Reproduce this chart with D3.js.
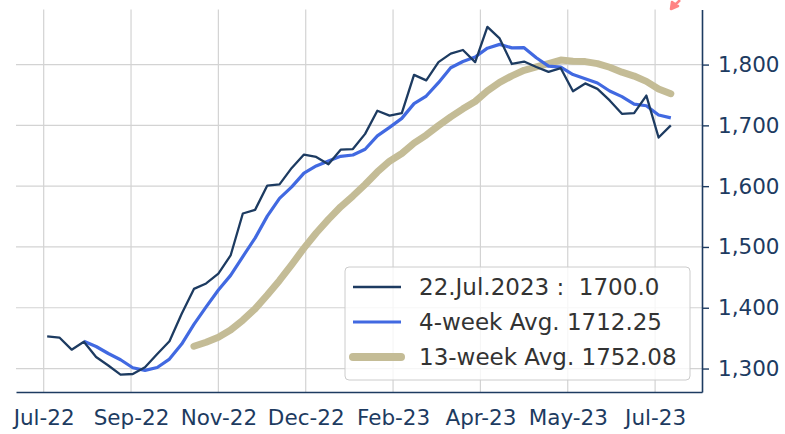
<!DOCTYPE html>
<html>
<head>
<meta charset="utf-8">
<script src="https://cdn.jsdelivr.net/npm/d3@7"></script>
<style>
  body { margin: 0; background: #fff; }
  svg { display: block; font-family: "DejaVu Sans", sans-serif; }
</style>
</head>
<body>
<svg id="chart" width="785" height="434"></svg>
<script>
// weekly readings, last week ending 22 Jul 2023
const lastWeek = new Date(2023, 6, 22);
const weekly = [
  1353, 1351, 1331, 1344, 1319, 1305, 1290, 1291, 1302, 1324,
  1345, 1390, 1431, 1440, 1456, 1486, 1555, 1561, 1601, 1603,
  1630, 1652, 1648, 1636, 1660, 1661, 1686, 1724, 1716, 1720,
  1783, 1774, 1804, 1818, 1824, 1804, 1862, 1843, 1801, 1805,
  1796, 1788, 1794, 1756, 1769, 1760, 1741, 1719, 1720, 1749,
  1680, 1700
];
// 4-week average, starts at week 4
const avg4 = [
  1344.75, 1336.25, 1324.75, 1314.5, 1301.25, 1297, 1301.75, 1315.5, 1340.25, 1372.5,
  1401.5, 1429.25, 1453.25, 1484.25, 1514.5, 1550.75, 1580, 1598.75, 1621.5, 1633.25,
  1641.5, 1649, 1651.25, 1660.75, 1682.75, 1696.75, 1711.5, 1735.75, 1748.25, 1770.25,
  1794.75, 1805, 1812.5, 1827, 1833.25, 1827.5, 1827.75, 1811.25, 1797.5, 1795.75,
  1783.5, 1776.75, 1769.75, 1756.5, 1747.25, 1735, 1732.25, 1717, 1712.25
];
// 13-week average, starts at week 13
const avg13 = [
  1336.62, 1343.31, 1351.38, 1363.31, 1379.54, 1398.15, 1420.92, 1445.00, 1471.08, 1498.00,
  1522.92, 1545.31, 1566.08, 1583.77, 1602.69, 1623.31, 1641.00, 1653.69, 1670.77, 1684.08,
  1699.54, 1714.00, 1727.23, 1739.23, 1756.62, 1770.69, 1781.46, 1790.62, 1796.15, 1801.69,
  1807.38, 1805.31, 1804.92, 1801.54, 1795.62, 1787.54, 1781.08, 1772.38, 1759.85, 1752.08
];
const tickDates = ["2022-07-28", "2022-09-16", "2022-11-05", "2022-12-25",
                   "2023-02-13", "2023-04-04", "2023-05-24", "2023-07-13"];
const yTicks = [1300, 1400, 1500, 1600, 1700, 1800];
const legendLabels = ["22.Jul.2023 :  1700.0", "4-week Avg. 1712.25", "13-week Avg. 1752.08"];

const navy = "#1d3b61", blue = "#4169e1", tan = "#c4bc96", grid = "#d3d3d3";

const svg = d3.select("#chart");
const plotL = 16, plotR = 702, plotT = 9.5, plotB = 392;

const dates = d3.range(weekly.length).map(i => d3.timeDay.offset(lastWeek, -7 * (weekly.length - 1 - i)));
const parse = d3.timeParse("%Y-%m-%d");

// 5% margin on both axes, like the original plot
const t0 = dates[0].getTime(), t1 = dates[dates.length - 1].getTime();
const tpad = (t1 - t0) * 0.05;
const x = d3.scaleTime()
  .domain([new Date(t0 - tpad), new Date(t1 + tpad)])
  .range([plotL, plotR]);

const [vmin, vmax] = d3.extent(weekly);
const vpad = (vmax - vmin) * 0.05;
const y = d3.scaleLinear()
  .domain([vmin - vpad, vmax + vpad])
  .range([plotB, plotT]);

// gridlines
svg.append("g").selectAll("line").data(tickDates.map(parse)).enter()
  .append("line")
  .attr("x1", d => x(d)).attr("x2", d => x(d))
  .attr("y1", plotT).attr("y2", plotB)
  .attr("stroke", grid).attr("stroke-width", 1.2);
svg.append("g").selectAll("line").data(yTicks).enter()
  .append("line")
  .attr("x1", plotL).attr("x2", plotR)
  .attr("y1", d => y(d)).attr("y2", d => y(d))
  .attr("stroke", grid).attr("stroke-width", 1.2);

// axes: only bottom and right spines
const xAxis = svg.append("g")
  .attr("transform", `translate(0,${plotB})`)
  .call(d3.axisBottom(x).tickValues(tickDates.map(parse))
    .tickFormat(d3.timeFormat("%b-%y")).tickSize(0).tickPadding(18));
const yAxis = svg.append("g")
  .attr("transform", `translate(${plotR},0)`)
  .call(d3.axisRight(y).tickValues(yTicks).tickFormat(d3.format(","))
    .tickSize(7).tickSizeOuter(0).tickPadding(9));
[xAxis, yAxis].forEach(a => {
  a.select(".domain").attr("stroke", navy).attr("stroke-width", 1.6);
  a.selectAll(".tick line").attr("stroke", navy).attr("stroke-width", 1.4);
  a.selectAll("text").attr("fill", navy).attr("font-size", 21.5)
    .attr("font-family", "DejaVu Sans");
});

// series
const line = d3.line().x(d => x(d[0])).y(d => y(d[1]));
const series = [
  { vals: weekly, offset: 0, color: navy, width: 2.3 },
  { vals: avg4, offset: 3, color: blue, width: 3.2 },
  { vals: avg13, offset: 12, color: tan, width: 7 }
];
series.slice().reverse().forEach(s => {
  svg.append("path")
    .datum(s.vals.map((v, i) => [dates[i + s.offset], v]))
    .attr("d", line)
    .attr("fill", "none")
    .attr("stroke", s.color)
    .attr("stroke-width", s.width)
    .attr("stroke-linejoin", "round")
    .attr("stroke-linecap", s.offset === 12 ? "round" : "butt");
});

// clipped red marker at the top edge
svg.append("path")
  .attr("d", "M680,0 L675,5 M671,9 L672,2 L678,6 Z")
  .attr("stroke", "#f66").attr("fill", "#f66").attr("stroke-width", 2.5)
  .attr("stroke-linejoin", "round").attr("opacity", 0.8);

// legend
const lg = svg.append("g");
lg.append("rect")
  .attr("x", 345).attr("y", 267).attr("width", 345).attr("height", 113).attr("rx", 4)
  .attr("fill", "#fff").attr("fill-opacity", 0.8)
  .attr("stroke", "#cccccc").attr("stroke-width", 1);
legendLabels.forEach((label, i) => {
  const ly = 287 + i * 35;
  lg.append("line")
    .attr("x1", 353).attr("x2", 401).attr("y1", ly).attr("y2", ly)
    .attr("stroke", series[i].color)
    .attr("stroke-width", i === 2 ? 8 : series[i].width)
    .attr("stroke-linecap", i === 2 ? "round" : "butt");
  lg.append("text")
    .attr("x", 419).attr("y", ly).attr("dy", "0.35em")
    .attr("font-size", 23).attr("fill", "#333")
    .style("white-space", "pre")
    .text(label);
});
</script>
</body>
</html>
